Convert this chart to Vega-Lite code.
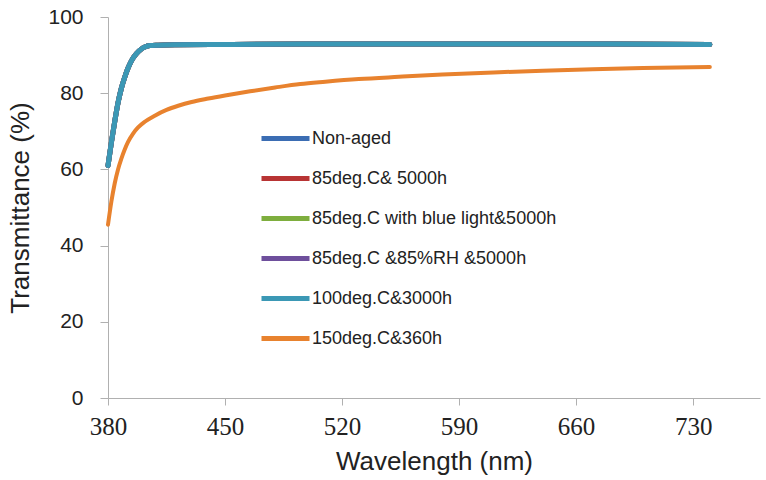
{
  "$schema": "https://vega.github.io/schema/vega-lite/v6.json",
  "autosize": "none",
  "width": 652,
  "height": 381,
  "padding": {"left": 108, "top": 17, "right": 6, "bottom": 82},
  "background": "white",
  "config": {"view": {"stroke": null}, "font": "Liberation Sans"},
  "datasets": {
    "clear": [
      {"wl": 380, "a": 61, "b": 61, "c": 61, "d": 61, "e": 61},
      {"wl": 382, "a": 67, "b": 67, "c": 67, "d": 67, "e": 67},
      {"wl": 384, "a": 72.5, "b": 72.5, "c": 72.5, "d": 72.5, "e": 72.5},
      {"wl": 386, "a": 77.5, "b": 77.5, "c": 77.5, "d": 77.5, "e": 77.5},
      {"wl": 388, "a": 81.3, "b": 81.3, "c": 81.3, "d": 81.3, "e": 81.3},
      {"wl": 390, "a": 84.2, "b": 84.2, "c": 84.2, "d": 84.2, "e": 84.2},
      {"wl": 392, "a": 86.6, "b": 86.6, "c": 86.6, "d": 86.6, "e": 86.6},
      {"wl": 394, "a": 88.5, "b": 88.5, "c": 88.5, "d": 88.5, "e": 88.5},
      {"wl": 397, "a": 90.4, "b": 90.4, "c": 90.4, "d": 90.4, "e": 90.4},
      {"wl": 400, "a": 91.6, "b": 91.6, "c": 91.6, "d": 91.6, "e": 91.6},
      {"wl": 402, "a": 92.1, "b": 92.1, "c": 92.1, "d": 92.1, "e": 92.1},
      {"wl": 405, "a": 92.5, "b": 92.5, "c": 92.5, "d": 92.5, "e": 92.5},
      {"wl": 410, "a": 92.6, "b": 92.6, "c": 92.6, "d": 92.6, "e": 92.6},
      {"wl": 420, "a": 92.7, "b": 92.7, "c": 92.7, "d": 92.7, "e": 92.7},
      {"wl": 450, "a": 92.8, "b": 92.8, "c": 92.8, "d": 92.8, "e": 92.8},
      {"wl": 500, "a": 92.9, "b": 92.9, "c": 92.9, "d": 92.9, "e": 92.9},
      {"wl": 560, "a": 92.9, "b": 92.9, "c": 92.9, "d": 92.9, "e": 92.9},
      {"wl": 620, "a": 92.9, "b": 92.9, "c": 92.9, "d": 92.9, "e": 92.9},
      {"wl": 680, "a": 92.9, "b": 92.9, "c": 92.9, "d": 92.9, "e": 92.9},
      {"wl": 740, "a": 92.8, "b": 92.8, "c": 92.8, "d": 92.8, "e": 92.8}
    ],
    "orange": [
      {"wl": 380, "t": 45.5}, {"wl": 382, "t": 51.5}, {"wl": 384, "t": 56.3}, {"wl": 386, "t": 60},
      {"wl": 388, "t": 62.8}, {"wl": 390, "t": 65.2}, {"wl": 392, "t": 67.2}, {"wl": 395, "t": 69.4},
      {"wl": 398, "t": 71}, {"wl": 402, "t": 72.5}, {"wl": 408, "t": 74.1}, {"wl": 415, "t": 75.6},
      {"wl": 422, "t": 76.7}, {"wl": 430, "t": 77.7}, {"wl": 440, "t": 78.6}, {"wl": 450, "t": 79.4},
      {"wl": 465, "t": 80.5}, {"wl": 480, "t": 81.5}, {"wl": 495, "t": 82.4}, {"wl": 510, "t": 83},
      {"wl": 530, "t": 83.7}, {"wl": 554, "t": 84.3}, {"wl": 580, "t": 84.9}, {"wl": 614, "t": 85.5},
      {"wl": 640, "t": 85.9}, {"wl": 670, "t": 86.3}, {"wl": 700, "t": 86.6}, {"wl": 740, "t": 86.9}
    ],
    "names": [
      {"k": "a", "s": "Non-aged"},
      {"k": "b", "s": "85deg.C& 5000h"},
      {"k": "c", "s": "85deg.C with blue light&5000h"},
      {"k": "d", "s": "85deg.C &85%RH &5000h"},
      {"k": "e", "s": "100deg.C&3000h"}
    ]
  },
  "encoding": {
    "x": {
      "field": "wl", "type": "quantitative",
      "scale": {"domain": [380, 770], "nice": false, "zero": false},
      "axis": {
        "values": [380, 450, 520, 590, 660, 730],
        "grid": false, "domainColor": "#b0b0b0", "tickColor": "#b0b0b0",
        "tickSize": 7, "labelFont": "Liberation Serif", "labelFontSize": 25,
        "labelColor": "#222", "labelPadding": 9, "labelFlush": false,
        "title": "Wavelength (nm)", "titleFont": "Liberation Sans",
        "titleFontSize": 26, "titleFontWeight": "normal", "titleColor": "#222",
        "titlePadding": 9
      }
    },
    "y": {
      "field": "t", "type": "quantitative",
      "scale": {"domain": [0, 100], "nice": false},
      "axis": {
        "values": [0, 20, 40, 60, 80, 100],
        "grid": false, "domainColor": "#b0b0b0", "tickColor": "#b0b0b0",
        "tickSize": 8, "labelFontSize": 21, "labelColor": "#222", "labelPadding": 17,
        "title": "Transmittance (%)", "titleFontSize": 26, "titleFontWeight": "normal",
        "titleColor": "#222", "titlePadding": 14
      }
    },
    "color": {
      "field": "s", "type": "nominal",
      "scale": {
        "domain": ["Non-aged", "85deg.C& 5000h", "85deg.C with blue light&5000h", "85deg.C &85%RH &5000h", "100deg.C&3000h", "150deg.C&360h"],
        "range": ["#3b6db3", "#b83434", "#7eae3e", "#6e4f9c", "#3b98b5", "#e8822e"]
      },
      "legend": {
        "title": null, "orient": "none", "legendX": 151, "legendY": 95,
        "symbolType": "stroke", "symbolSize": 2304, "symbolStrokeWidth": 5,
        "labelFontSize": 18, "labelColor": "#222", "labelOffset": 0,
        "rowPadding": 3, "labelLimit": 400
      }
    }
  },
  "layer": [
    {
      "data": {"name": "clear"},
      "transform": [
        {"fold": ["a", "b", "c", "d", "e"], "as": ["k", "t"]},
        {"lookup": "k", "from": {"data": {"name": "names"}, "key": "k", "fields": ["s"]}}
      ],
      "mark": {"type": "line", "strokeWidth": 5, "interpolate": "monotone", "strokeCap": "round"}
    },
    {
      "data": {"name": "orange"},
      "transform": [{"calculate": "'150deg.C&360h'", "as": "s"}],
      "mark": {"type": "line", "strokeWidth": 4, "interpolate": "monotone", "strokeCap": "round"}
    }
  ]
}
